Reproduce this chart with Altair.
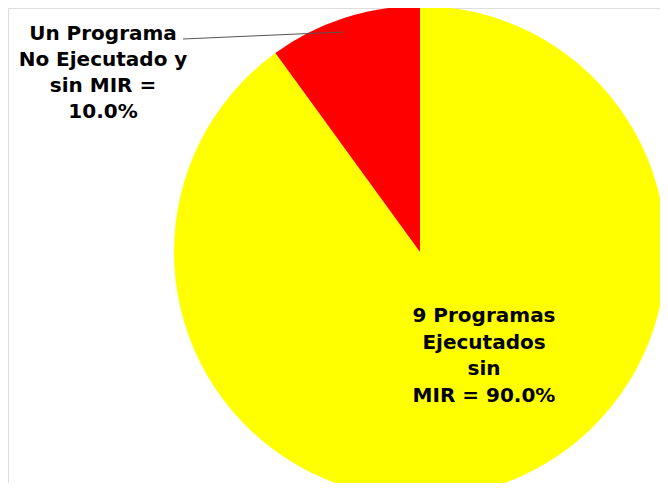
import altair as alt
import pandas as pd

categories = ["9 Programas Ejecutados sin MIR", "Un Programa No Ejecutado y sin MIR"]
values = [90.0, 10.0]
colors = ["#FFFF00", "#FF0000"]
order = [1, 2]

label_big = ["9 Programas", "Ejecutados", "sin", "MIR = 90.0%"]
label_small = ["Un Programa", "No Ejecutado y", "sin MIR =", "10.0%"]

df = pd.DataFrame({"cat": categories, "val": values, "ord": order})

pie = alt.Chart(df).mark_arc(strokeWidth=0).encode(
    theta=alt.Theta("val:Q", stack=True),
    order=alt.Order("ord:Q"),
    color=alt.Color("cat:N", scale=alt.Scale(domain=categories, range=colors), legend=None),
    x=alt.value(412),
    y=alt.value(244),
    radius=alt.value(246),
)

font = "DejaVu Sans"

txt_big = alt.Chart(pd.DataFrame({"t": ["\n".join(label_big)]})).mark_text(
    font=font, fontSize=20, fontWeight="bold", align="center", baseline="alphabetic",
    lineBreak="\n", lineHeight=26.5, color="#000000",
).encode(text="t:N", x=alt.value(476), y=alt.value(314))

txt_small = alt.Chart(pd.DataFrame({"t": ["\n".join(label_small)]})).mark_text(
    font=font, fontSize=20, fontWeight="bold", align="center", baseline="alphabetic",
    lineBreak="\n", lineHeight=26, color="#000000",
).encode(text="t:N", x=alt.value(95), y=alt.value(32))

leader = alt.Chart(pd.DataFrame({"a": [0]})).mark_rule(color="#555555", strokeWidth=1).encode(
    x=alt.value(175), x2=alt.value(335), y=alt.value(31), y2=alt.value(24)
)

chart = alt.layer(pie, leader, txt_small, txt_big).properties(
    width=652, height=475, padding=0, autosize=alt.AutoSizeParams(type="none")
).configure_view(strokeWidth=0, stroke="transparent").configure(background="#FFFFFF")

chart.save("out.html", embed_options={"renderer": "svg", "actions": False})
